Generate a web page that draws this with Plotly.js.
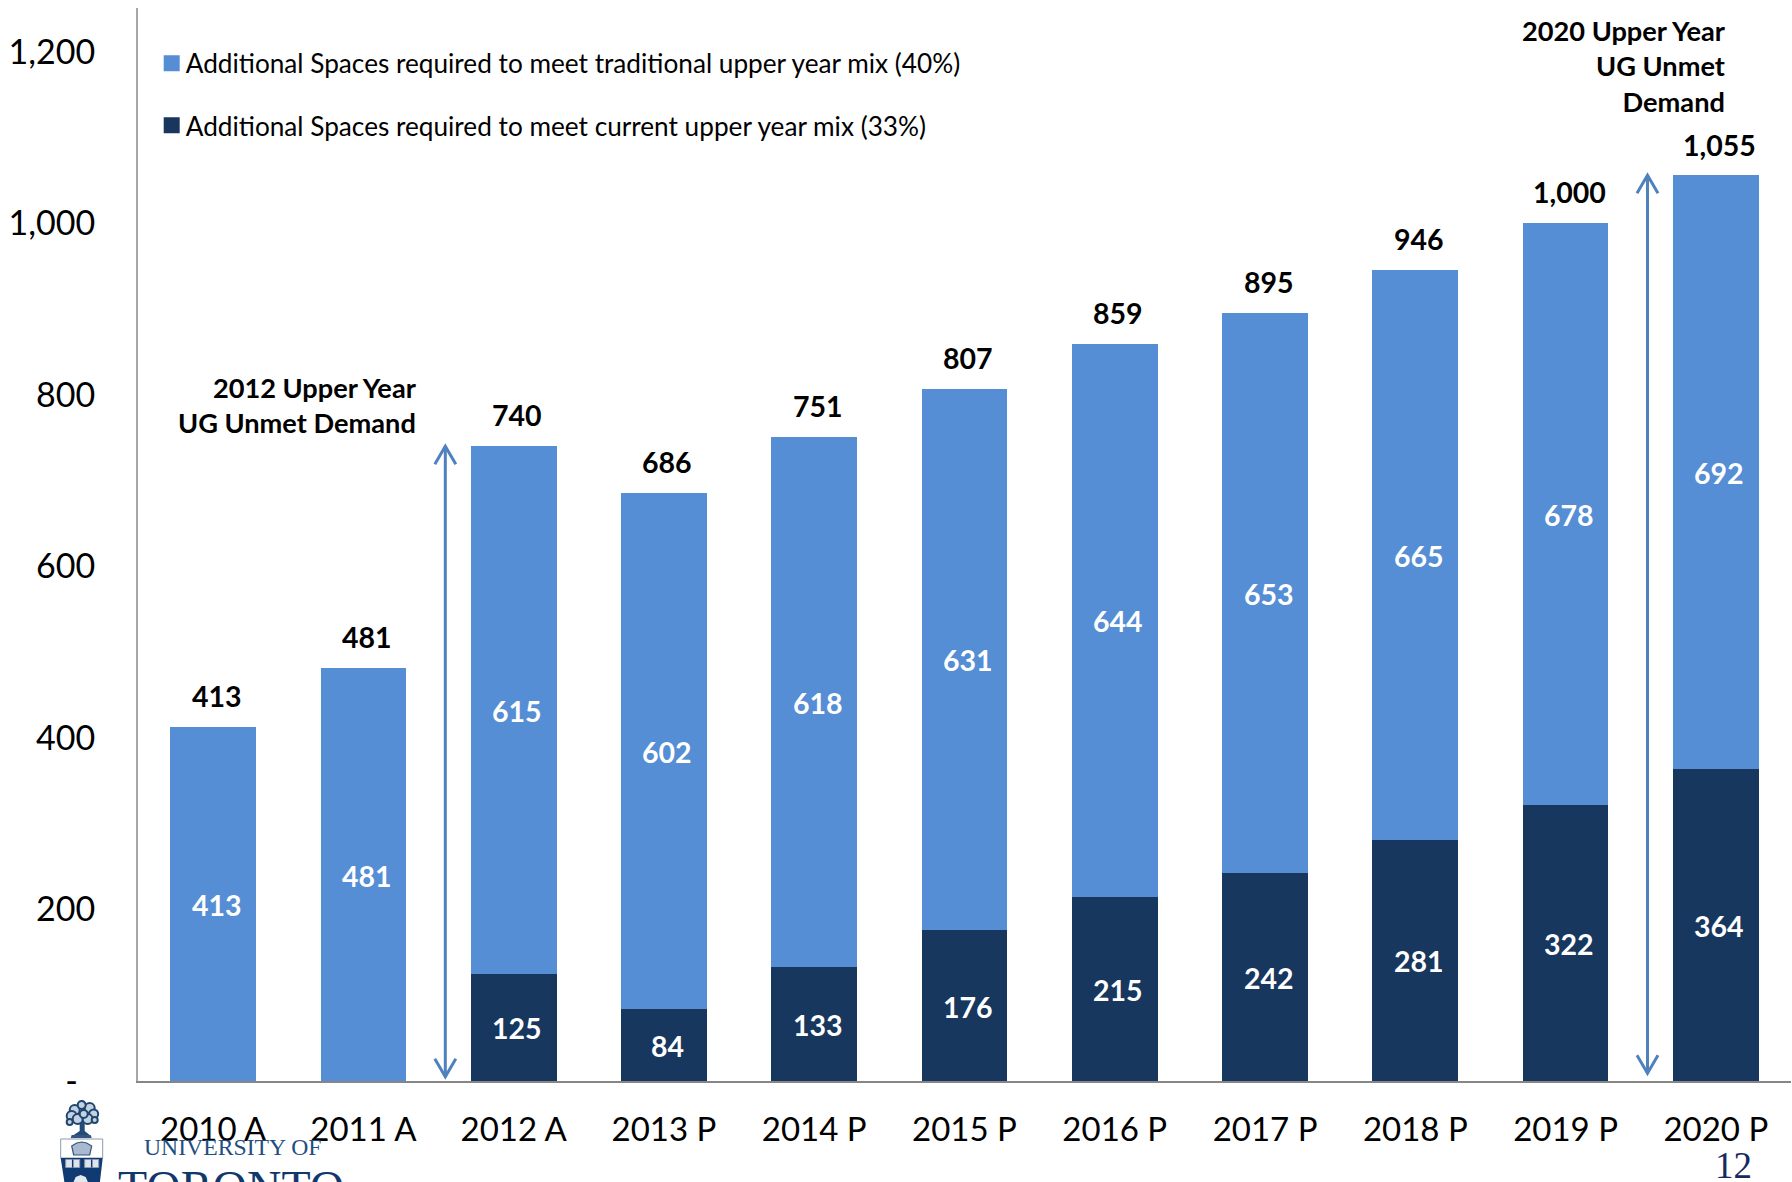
<!DOCTYPE html>
<html><head><meta charset="utf-8">
<script src="https://cdn.plot.ly/plotly-3.0.1.min.js"></script>
<style>html,body{margin:0;padding:0;background:#fff}#c{width:1792px;height:1182px}</style>
</head><body><div id="c"></div>
<script>
const categories=['2010 A','2011 A','2012 A','2013 P','2014 P','2015 P','2016 P','2017 P','2018 P','2019 P','2020 P'];
const currentMix=[null,null,125,84,133,176,215,242,281,322,364];
const traditionalMix=[413,481,615,602,618,631,644,653,665,678,692];
const totals=[413,481,740,686,751,807,859,895,946,1000,1055];
const yTickVals=[0,200,400,600,800,1000,1200];
const yTickText=['-\u00a0\u00a0','200','400','600','800','1,000','1,200'];
const seriesNames=['Additional Spaces required to meet traditional upper year mix (40%)','Additional Spaces required to meet current upper year mix (33%)'];
const LIGHT='#558ED5',DARK='#17375E',ARROW='#4F81BD',FONT='Lato, Carlito, sans-serif';
const W=1792,H=1182,L=138.3,R=1791,T=8,B=1081;
const px=x=>(x-L)/(R-L), py=y=>(B-y)/(B-T);

const fmt=v=>v.toLocaleString('en-US');
const traces=[
 {type:'bar',x:categories,y:currentMix,marker:{color:DARK},showlegend:false,hoverinfo:'y'},
 {type:'bar',x:categories,y:traditionalMix,marker:{color:LIGHT},showlegend:false,hoverinfo:'y'},
 {type:'scatter',mode:'markers',x:[categories[0]],y:[null],name:seriesNames[0],legendgroup:'a',marker:{symbol:'square',size:16,color:LIGHT}},
 {type:'scatter',mode:'markers',x:[categories[0]],y:[null],name:seriesNames[1],legendgroup:'b',marker:{symbol:'square',size:16,color:DARK}}
];
const annotations=[];
categories.forEach((c,i)=>{
  const d=currentMix[i]||0;
  if(currentMix[i]!==null) annotations.push({x:i,y:d/2,xref:'x',yref:'y',text:'<b>'+d+'</b>',showarrow:false,xshift:3.5,yshift:-1,font:{family:FONT,size:28.5,color:'#fff'}});
  annotations.push({x:i,y:d+traditionalMix[i]/2,xref:'x',yref:'y',text:'<b>'+traditionalMix[i]+'</b>',showarrow:false,xshift:3.5,yshift:-1,font:{family:FONT,size:28.5,color:'#fff'}});
  annotations.push({x:i,y:totals[i],xref:'x',yref:'y',text:'<b>'+fmt(totals[i])+'</b>',showarrow:false,xshift:3.5,yshift:31,font:{family:FONT,size:28.5,color:'#000'}});
});
const note=(t,x,y)=>({xref:'paper',yref:'paper',x:px(x),y:py(y),xanchor:'right',yanchor:'top',align:'right',showarrow:false,text:t,font:{family:FONT,size:27.2,color:'#000'}});
annotations.push(note('<b>2012 Upper Year<br>UG Unmet Demand</b>',419,369));
annotations.push(note('<b>2020 Upper Year<br>UG Unmet<br>Demand</b>',1728,12));
const tx=(t,x,y,size,color,fam,anch)=>({xref:'paper',yref:'paper',x:px(x),y:py(y),xanchor:anch||'left',yanchor:'middle',showarrow:false,text:t,font:{family:fam,size,color}});
annotations.push(tx('UNIVERSITY OF',142,1147,23.7,'#1F4E82','Liberation Serif'));
annotations.push(tx('TORONTO',116,1187,47.7,'#12386B','Liberation Serif'));
annotations.push(tx('12',1713,1165,37,'#17295E','Liberation Serif'));

const sline={color:ARROW,width:3};
const shapes=[];
function arrow(xv,yTop,yBot){
  shapes.push({type:'line',xref:'x',yref:'y',x0:xv,x1:xv,y0:yBot,y1:yTop,line:sline});
  shapes.push({type:'path',xref:'x',yref:'y',xsizemode:'pixel',ysizemode:'pixel',xanchor:xv,yanchor:yTop,path:'M-10.5,-18 L0,0 L10.5,-18',line:sline});
  shapes.push({type:'path',xref:'x',yref:'y',xsizemode:'pixel',ysizemode:'pixel',xanchor:xv,yanchor:yBot,path:'M-10.5,18 L0,0 L10.5,18',line:sline});
}
arrow(1.545,740,5);
arrow(9.545,1056,9);
// crest
const navy='#0F3A72';
const sh=(o)=>shapes.push(Object.assign({xref:'paper',yref:'paper',layer:'above'},o));
const poly=(pts)=>pts.map((p,i)=>(i?'L':'M')+px(p[0])+','+py(p[1])).join(' ');
sh({type:'path',path:poly([[61,1139],[103,1139],[103,1158],[61,1158]])+' Z',fillcolor:'#fff',line:{color:'#8E9AAD',width:1}});
sh({type:'path',path:poly([[61,1158],[103,1158],[100,1184],[65,1184]])+' Z',fillcolor:navy,line:{width:0}});
[[66,1159.5],[85,1159.5]].forEach(p=>{
 sh({type:'rect',x0:px(p[0]),x1:px(p[0]+14),y0:py(p[1]+8),y1:py(p[1]),fillcolor:'#DDE4EE',line:{color:'#8E9AAD',width:1}});
 sh({type:'line',x0:px(p[0]+7),x1:px(p[0]+7),y0:py(p[1]+8),y1:py(p[1]),line:{color:navy,width:1.5}});
});
sh({type:'path',path:poly([[73,1184],[76,1177],[81,1175],[86,1177],[89,1184]])+' Z',fillcolor:'#E3E9F1',line:{width:0}});
sh({type:'path',path:poly([[74,1155],[72,1146],[77,1143],[82,1142],[87,1143],[92,1146],[90,1155]])+' Z',fillcolor:'#A9B9CF',line:{color:'#33557F',width:1.2}});
[[83,1112,8],[75,1110,5],[90,1108,5],[82,1105,4],[72,1116,5],[94,1114,4.5],[78,1119,5],[88,1119,5],[84,1114,4],[70,1122,3],[95,1120,3]].forEach(c=>sh({type:'circle',x0:px(c[0]-c[2]),x1:px(c[0]+c[2]),y0:py(c[1]+c[2]),y1:py(c[1]-c[2]),fillcolor:'#C5D1E0',line:{color:'#1F4670',width:2}}));
sh({type:'path',path:poly([[80,1122],[85,1122],[85,1131],[90,1135],[74,1135],[80,1131]])+' Z',fillcolor:'#234B78',line:{width:0}});
sh({type:'path',path:poly([[72,1135],[91,1135],[92,1138],[71,1138]])+' Z',fillcolor:'#33557F',line:{width:0}});

const layout={
 width:W,height:H,paper_bgcolor:'#fff',plot_bgcolor:'#fff',barmode:'stack',bargap:0.43,
 margin:{l:L,r:W-R,t:T,b:H-B,pad:0},
 font:{family:FONT,color:'#000'},
 xaxis:{type:'category',range:[-0.5,10.5],showgrid:false,zeroline:false,showline:true,linecolor:'#868686',linewidth:2,ticks:'',ticklabelstandoff:18,tickfont:{family:FONT,size:33,color:'#000'},automargin:false},
 yaxis:{range:[0,1251],tickmode:'array',tickvals:yTickVals,ticktext:yTickText,showgrid:false,zeroline:false,showline:true,linecolor:'#A6A6A6',linewidth:2,ticks:'',ticklabelstandoff:34,tickfont:{family:FONT,size:34,color:'#000'},automargin:false},
 legend:{x:px(146),y:py(39.7),xanchor:'left',yanchor:'top',traceorder:'grouped',tracegroupgap:25,indentation:0,bgcolor:'rgba(0,0,0,0)',font:{family:FONT,size:26.2,color:'#000'},itemclick:false,itemdoubleclick:false},
 showlegend:true,annotations,shapes
};
Plotly.newPlot('c',traces,layout,{displayModeBar:false,responsive:false}).then(gd=>{
  gd.querySelectorAll('.legendpoints').forEach(g=>g.setAttribute('transform','translate(6,0)'));
});
</script></body></html>
